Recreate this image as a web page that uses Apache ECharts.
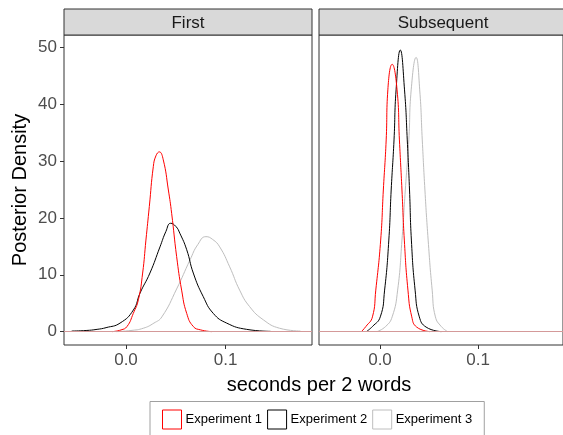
<!DOCTYPE html>
<html>
<head>
<meta charset="utf-8">
<script src="https://cdn.jsdelivr.net/npm/echarts@6/dist/echarts.min.js"></script>
<style>
html,body{margin:0;padding:0;background:#fff;}
#chart{width:563px;height:435px;}
</style>
</head>
<body>
<div id="chart"></div>
<script>
// ---- data ----
var panels = ['First', 'Subsequent'];
var experiments = ['Experiment 1', 'Experiment 2', 'Experiment 3'];
var yTicks = [0, 10, 20, 30, 40, 50];
var xTicks = [0, 0.1];

// First panel: [x, density]
var first_exp1 = [[-0.014,0.0],[-0.005,0.3],[0.001,0.9],[0.0073,3.2],[0.0124,5.6],[0.0167,10.3],[0.020,16.1],[0.0234,22.0],[0.0274,29.0],[0.030,30.9],[0.0334,31.6],[0.0374,30.2],[0.0425,24.9],[0.0458,20.8],[0.0508,13.2],[0.0558,7.3],[0.0609,3.2],[0.0675,0.9],[0.075,0.3],[0.086,0.0]];
var first_exp2 = [[-0.0545,0.1],[-0.04,0.2],[-0.029,0.4],[-0.02,0.7],[-0.006,1.5],[0.0074,3.8],[0.014,6.75],[0.024,10.3],[0.0341,14.9],[0.040,17.6],[0.0448,19.05],[0.050,18.5],[0.054,17.3],[0.0609,14.4],[0.0675,10.3],[0.0775,6.15],[0.0876,3.2],[0.101,1.5],[0.121,0.4],[0.145,0.05]];
var first_exp3 = [[-0.01,0.0],[0.005,0.2],[0.0174,0.6],[0.028,1.5],[0.036,2.6],[0.0508,7.5],[0.0642,12.6],[0.072,15.3],[0.0802,16.7],[0.087,16.2],[0.094,14.9],[0.104,11.4],[0.114,7.3],[0.124,4.4],[0.138,2.05],[0.154,0.6],[0.175,0.1]];

// Subsequent panel
var subs_exp1 = [[-0.019,0.0],[-0.0144,0.9],[-0.0077,2.6],[-0.0043,7.3],[0.0007,16.1],[0.0034,24.9],[0.0063,33.7],[0.008,42.5],[0.0124,47.0],[0.0174,42.5],[0.0198,33.7],[0.0224,24.9],[0.0248,16.1],[0.0285,7.3],[0.0324,2.6],[0.0374,0.8],[0.051,0.0]];
var subs_exp2 = [[-0.014,0.0],[-0.0077,0.9],[0.0003,2.6],[0.0047,7.3],[0.009,16.1],[0.0114,24.9],[0.0143,33.7],[0.0164,42.5],[0.0207,49.5],[0.025,42.5],[0.0278,33.7],[0.0301,24.9],[0.032,16.1],[0.0358,7.3],[0.0401,2.6],[0.047,0.8],[0.0625,0.0]];
var subs_exp3 = [[-0.003,0.0],[0.0057,0.9],[0.0124,2.6],[0.018,7.3],[0.0224,16.1],[0.0258,24.9],[0.0294,33.7],[0.0318,42.5],[0.0368,48.2],[0.0405,42.5],[0.0431,33.7],[0.0458,24.9],[0.0491,16.1],[0.0532,7.3],[0.0565,2.6],[0.0625,0.9],[0.069,0.0]];

var colors = ['#ff0000', '#000000', '#bebebe'];

// ---- layout ----
var FONT = 'Liberation Sans, Arial, Helvetica, sans-serif';
var gTop = 35, gH = 310, gW = 248;
var gLeft = [64, 319];
var stripTop = 9, stripH = 26;
var xMin = -0.0622, xMax = 0.1866;
var yMin = -2.35, yMax = 52.15;

var chart = echarts.init(document.getElementById('chart'), null, {renderer: 'canvas'});

var grids = gLeft.map(function (l) {
  return {left: l, top: gTop, width: gW, height: gH, show: true, borderColor: '#333333', borderWidth: 1, backgroundColor: '#ffffff', containLabel: false};
});

var xAxes = gLeft.map(function (l, i) {
  return {
    type: 'value', gridIndex: i, min: xMin, max: xMax, position: 'bottom',
    axisLine: {show: false, onZero: false},
    axisTick: {show: true, length: 4, lineStyle: {color: '#333333'}, customValues: xTicks},
    axisLabel: {show: true, customValues: xTicks, margin: 7, fontSize: 17, color: '#4d4d4d', fontFamily: FONT,
      formatter: function (v) { return v.toFixed(1); }},
    splitLine: {show: false}
  };
});

var yAxes = gLeft.map(function (l, i) {
  return {
    type: 'value', gridIndex: i, min: yMin, max: yMax, position: 'left',
    name: i === 0 ? 'Posterior Density' : '',
    nameLocation: 'middle', nameGap: 34, nameRotate: 90,
    nameTextStyle: {fontSize: 20, color: '#000', fontFamily: FONT},
    axisLine: {show: false, onZero: false},
    axisTick: {show: i === 0, length: 4, lineStyle: {color: '#333333'}, customValues: yTicks},
    axisLabel: {show: i === 0, customValues: yTicks, margin: 7, fontSize: 17, color: '#4d4d4d', fontFamily: FONT},
    splitLine: {show: false}
  };
});

var panelData = [[first_exp1, first_exp2, first_exp3], [subs_exp1, subs_exp2, subs_exp3]];
var series = [];
panelData.forEach(function (set, p) {
  set.forEach(function (d, k) {
    var s = {
      type: 'line', name: experiments[k], xAxisIndex: p, yAxisIndex: p,
      data: d, showSymbol: false, smooth: 0.5,
      lineStyle: {color: colors[k], width: 1}, itemStyle: {color: colors[k]},
      z: 3 - k, silent: true
    };
    if (k === 0) {
      s.markLine = {
        silent: true, symbol: ['none', 'none'], label: {show: false},
        lineStyle: {color: '#d49999', width: 1, type: 'solid'},
        data: [{yAxis: 0}], z: 5
      };
    }
    series.push(s);
  });
});

var graphics = [];
gLeft.forEach(function (l, i) {
  graphics.push({type: 'rect', shape: {x: l, y: stripTop, width: gW, height: stripH},
    style: {fill: '#d9d9d9', stroke: '#333333', lineWidth: 1}, z: 10});
  graphics.push({type: 'text', x: l + gW / 2, y: stripTop + stripH / 2 + 1,
    style: {text: panels[i], font: '17px ' + FONT, fill: '#1a1a1a', textAlign: 'center', textVerticalAlign: 'middle'}, z: 11});
});
graphics.push({type: 'text', x: 319, y: 385,
  style: {text: 'seconds per 2 words', font: '20px ' + FONT, fill: '#000', textAlign: 'center', textVerticalAlign: 'middle'}});

chart.setOption({
  animation: false,
  backgroundColor: '#ffffff',
  grid: grids,
  xAxis: xAxes,
  yAxis: yAxes,
  series: series,
  graphic: graphics,
  legend: {
    left: 150, top: 401.5,
    orient: 'horizontal',
    padding: [8, 12, 14, 12],
    itemWidth: 19, itemHeight: 19, itemGap: 5,
    borderColor: '#a0a0a0', borderWidth: 1,
    icon: 'rect',
    textStyle: {fontSize: 13, color: '#000', fontFamily: FONT, padding: [0, 0, 0, -1]},
    data: experiments.map(function (n, k) {
      return {name: n, icon: 'rect', itemStyle: {color: 'rgba(0,0,0,0)', borderColor: colors[k], borderWidth: 1}};
    })
  }
});
</script>
</body>
</html>
